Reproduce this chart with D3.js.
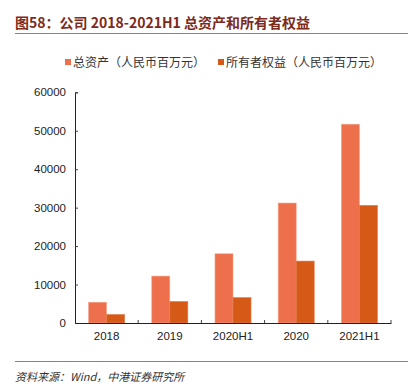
<!DOCTYPE html>
<html lang="zh">
<head>
<meta charset="UTF-8">
<script src="https://cdn.jsdelivr.net/npm/d3@7"></script>
<style>
  html,body{margin:0;padding:0;background:#fff;}
  svg{display:block;font-family:"Liberation Sans","Noto Sans CJK SC",sans-serif;}
</style>
</head>
<body>
<svg id="chart" width="408" height="387"></svg>
<script>
// data
var categories = ["2018", "2019", "2020H1", "2020", "2021H1"];
var totalAssets = [5400, 12200, 18000, 31200, 51700];
var ownersEquity = [2200, 5600, 6600, 16100, 30600];
var seriesNames = ["总资产（人民币百万元）", "所有者权益（人民币百万元）"];
var yTicks = [0, 10000, 20000, 30000, 40000, 50000, 60000];

var colors = ["#ED6F4B", "#D55A17"];
var cjk = '"Noto Sans CJK SC",sans-serif';

var svg = d3.select("#chart");

// title + rule
svg.append("text")
    .attr("x", 15).attr("y", 28)
    .attr("font-family", cjk)
    .attr("font-size", 14).attr("font-weight", "bold")
    .attr("fill", "#7D2A1C")
    .text("图58：公司 2018-2021H1 总资产和所有者权益");
svg.append("line")
    .attr("x1", 15).attr("x2", 408).attr("y1", 33.5).attr("y2", 33.5)
    .attr("stroke", "#C9694D").attr("stroke-width", 1);

// legend
var legendX = [65, 218];
seriesNames.forEach(function(name, i) {
  svg.append("rect")
      .attr("x", legendX[i]).attr("y", 59)
      .attr("width", 6).attr("height", 6)
      .attr("fill", colors[i]);
  svg.append("text")
      .attr("x", legendX[i] + 8).attr("y", 67)
      .attr("font-family", cjk)
      .attr("font-size", 12).attr("fill", "#333")
      .text(name);
});

// scales
var x0 = d3.scaleBand().domain(categories).range([75, 391]).paddingInner(0.43).paddingOuter(0.215);
var x1 = d3.scaleBand().domain([0, 1]).range([0, x0.bandwidth()]);
var y = d3.scaleLinear().domain([0, 60000]).range([323, 92.3]);

// bars
var groups = svg.append("g").selectAll("g")
    .data(categories)
    .join("g")
    .attr("transform", function(d) { return "translate(" + x0(d) + ",0)"; });

groups.selectAll("rect")
    .data(function(d, i) { return [totalAssets[i], ownersEquity[i]]; })
    .join("rect")
    .attr("x", function(d, j) { return x1(j); })
    .attr("width", x1.bandwidth())
    .attr("y", function(d) { return y(d); })
    .attr("height", function(d) { return y(0) - y(d); })
    .attr("fill", function(d, j) { return colors[j]; })
    .attr("stroke", function(d, j) { return j === 0 ? "#F5A488" : "#E07A45"; })
    .attr("stroke-width", 0.6);

// y axis
var yAxis = svg.append("g")
    .attr("transform", "translate(75,0)")
    .call(d3.axisLeft(y).tickValues(yTicks).tickFormat(d3.format("d")).tickSize(-3).tickPadding(9));
yAxis.select(".domain").attr("stroke", "#222");
yAxis.selectAll(".tick line").attr("stroke", "#444");
yAxis.selectAll("text").attr("font-size", 11.5).attr("fill", "#222")
    .attr("font-family", '"Liberation Sans",sans-serif');

// x axis
var xAxis = svg.append("g")
    .attr("transform", "translate(0,323)")
    .call(d3.axisBottom(x0).tickSize(0).tickPadding(9));
xAxis.select(".domain").attr("stroke", "#222");
xAxis.selectAll("text").attr("font-size", 11.5).attr("fill", "#222")
    .attr("font-family", '"Liberation Sans",sans-serif');

// boundary ticks between categories (pointing up)
var bounds = d3.range(categories.length).map(function(i) { return 75 + (i + 1) * (316 / categories.length); });
svg.append("g").selectAll("line")
    .data(bounds)
    .join("line")
    .attr("x1", function(d) { return d; }).attr("x2", function(d) { return d; })
    .attr("y1", 323).attr("y2", 320)
    .attr("stroke", "#444");

// footer
svg.append("line")
    .attr("x1", 15).attr("x2", 408).attr("y1", 361.5).attr("y2", 361.5)
    .attr("stroke", "#C9694D").attr("stroke-width", 1);
svg.append("text")
    .attr("x", 15).attr("y", 381)
    .attr("font-family", cjk)
    .attr("font-size", 11).attr("font-style", "italic")
    .attr("fill", "#333")
    .text("资料来源：Wind，中港证券研究所");
</script>
</body>
</html>
